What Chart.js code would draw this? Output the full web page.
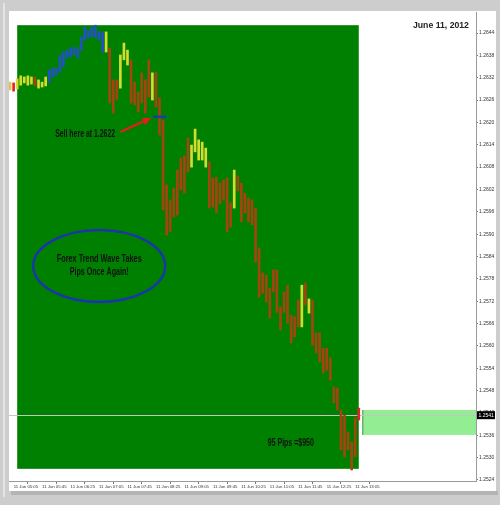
<!DOCTYPE html>
<html>
<head>
<meta charset="utf-8">
<script src="https://cdn.jsdelivr.net/npm/chart.js@4.4.1/dist/chart.umd.min.js"></script>
<style>
  html, body { margin: 0; padding: 0; background: #cdcdcd; }
  canvas { display: block; }
</style>
</head>
<body>
<canvas id="chart" width="500" height="505"></canvas>
<script>
// 5 minute bars, 11 Jun 2012 (bar 1 = 05:05 ... bar 97 = 13:05)
const highs = [
  1.26308, 1.26306, 1.26317, 1.26325, 1.26322, 1.26325, 1.26322, 1.26322, 1.26314, 1.26308,
  1.26322, 1.26341, 1.26346, 1.26346, 1.26381, 1.26389, 1.26394, 1.26400, 1.26402, 1.26400,
  1.26429, 1.26456, 1.26448, 1.26456, 1.26461, 1.26443, 1.26443, 1.26443, 1.26400, 1.26314,
  1.26314, 1.26381, 1.26413, 1.26394, 1.26368, 1.26308, 1.26282, 1.26333, 1.26314, 1.26368,
  1.26333, 1.26335, 1.26266, 1.26206, 1.26032, 1.25992, 1.26024, 1.26072, 1.26104, 1.26110,
  1.26158, 1.26139, 1.26182, 1.26153, 1.26147, 1.26131, 1.26094, 1.26051, 1.26053, 1.26037,
  1.26045, 1.26051, 1.25984, 1.26072, 1.26056, 1.26037, 1.26010, 1.25997, 1.25992, 1.25970,
  1.25863, 1.25796, 1.25790, 1.25755, 1.25804, 1.25804, 1.25704, 1.25745, 1.25763, 1.25683,
  1.25678, 1.25723, 1.25763, 1.25769, 1.25726, 1.25723, 1.25635, 1.25635, 1.25594, 1.25594,
  1.25568, 1.25490, 1.25487, 1.25428, 1.25414, 1.25369, 1.25342, 1.25407, 1.25433
];
const lows = [
  1.26287, 1.26284, 1.26290, 1.26300, 1.26306, 1.26300, 1.26303, 1.26298, 1.26292, 1.26295,
  1.26298, 1.26308, 1.26322, 1.26327, 1.26335, 1.26349, 1.26373, 1.26376, 1.26381, 1.26373,
  1.26394, 1.26421, 1.26427, 1.26429, 1.26429, 1.26421, 1.26389, 1.26389, 1.26252, 1.26225,
  1.26262, 1.26292, 1.26368, 1.26354, 1.26252, 1.26247, 1.26228, 1.26252, 1.26225, 1.26268,
  1.26260, 1.26241, 1.26166, 1.25965, 1.25898, 1.25906, 1.25946, 1.25951, 1.26019, 1.26010,
  1.26067, 1.26080, 1.26121, 1.26099, 1.26099, 1.26080, 1.25970, 1.25973, 1.25957, 1.25981,
  1.25992, 1.25906, 1.25919, 1.25970, 1.26016, 1.25933, 1.25957, 1.25933, 1.25925, 1.25825,
  1.25731, 1.25742, 1.25718, 1.25675, 1.25745, 1.25690, 1.25643, 1.25690, 1.25661, 1.25608,
  1.25624, 1.25651, 1.25651, 1.25710, 1.25688, 1.25602, 1.25581, 1.25557, 1.25527, 1.25535,
  1.25508, 1.25447, 1.25428, 1.25321, 1.25302, 1.25321, 1.25267, 1.25302, 1.25401
];
// indicator state per bar: b = up, d = down, y = neutral, o / r = marked bars
const trend = [
  'o','r','y','y','y','y','y','d','y','y',
  'y','b','b','b','b','b','b','b','b','b',
  'b','b','b','b','b','b','b','y','d','d',
  'd','y','y','y','d','d','d','d','d','d',
  'y','d','d','d','d','d','d','d','d','d',
  'd','y','y','y','y','y','d','d','d','d',
  'd','d','d','y','d','d','d','d','d','d',
  'd','d','d','d','d','d','d','d','d','d',
  'd','d','y','d','y','d','d','d','d','d',
  'd','d','d','d','d','d','d','d','r'
];

const timeTicks = [1, 9, 17, 25, 33, 41, 49, 57, 65, 73, 81, 89, 97];
const timeLabels = ['11 Jun 05:05', '11 Jun 05:45', '11 Jun 06:25', '11 Jun 07:05', '11 Jun 07:45',
  '11 Jun 08:25', '11 Jun 09:05', '11 Jun 09:45', '11 Jun 10:25', '11 Jun 11:05',
  '11 Jun 11:45', '11 Jun 12:25', '11 Jun 13:05'];
const priceTicks = [1.2524, 1.2530, 1.2536, 1.2542, 1.2548, 1.2554, 1.2560, 1.2566, 1.2572,
  1.2578, 1.2584, 1.2590, 1.2596, 1.2602, 1.2608, 1.2614, 1.2620, 1.2626, 1.2632, 1.2638, 1.2644];

const currentPrice = 1.25414;
const sellPrice = 1.26215;

const trendColors = { b: '#2152c4', d: '#a3450f', y: '#d4dc30', o: '#eec040', r: '#e02424' };

const bars = highs.map((h, i) => ({ x: i, y: [lows[i], h] }));

// helper: draw text squeezed to a given width
function fitText(ctx, text, cx, cy, width, font, color) {
  ctx.save();
  ctx.font = font;
  ctx.fillStyle = color;
  ctx.textAlign = 'center';
  ctx.textBaseline = 'middle';
  const w = ctx.measureText(text).width;
  ctx.translate(cx, cy);
  ctx.scale(width / w, 1);
  ctx.fillText(text, 0, 0);
  ctx.restore();
}

const frame = {
  id: 'frame',
  beforeDraw(chart) {
    const ctx = chart.ctx;
    ctx.save();
    ctx.fillStyle = '#cdcdcd';
    ctx.fillRect(0, 0, 500, 505);
    ctx.fillStyle = '#e4e4e4';
    ctx.fillRect(3, 3, 2, 494);
    ctx.fillStyle = '#b4b4b4';
    ctx.fillRect(11, 491, 487, 4);
    ctx.fillStyle = '#ffffff';
    ctx.fillRect(9, 11, 487, 480);
    ctx.restore();
  }
};

const objects = {
  id: 'objects',
  beforeDatasetsDraw(chart) {
    const { ctx, chartArea: a, scales: { x, y } } = chart;
    ctx.save();
    ctx.beginPath();
    ctx.rect(a.left, a.top, a.right - a.left, a.bottom - a.top);
    ctx.clip();
    // trend rectangle
    ctx.fillStyle = '#008000';
    ctx.fillRect(x.getPixelForValue(2), y.getPixelForValue(1.26461),
      x.getPixelForValue(98) - x.getPixelForValue(2), y.getPixelForValue(1.25270) - y.getPixelForValue(1.26461));
    // projection box
    ctx.fillStyle = '#93ee93';
    const px = x.getPixelForValue(99);
    ctx.fillRect(px, y.getPixelForValue(1.25428), a.right - px, y.getPixelForValue(1.25361) - y.getPixelForValue(1.25428));
    ctx.fillStyle = '#4f8f4f';
    ctx.fillRect(px, y.getPixelForValue(1.25428), 1, y.getPixelForValue(1.25361) - y.getPixelForValue(1.25428));
    // current price line
    ctx.strokeStyle = '#c4c4c4';
    ctx.lineWidth = 1;
    const cy = Math.round(y.getPixelForValue(currentPrice)) + 0.5;
    ctx.beginPath();
    ctx.moveTo(a.left, cy);
    ctx.lineTo(a.right, cy);
    ctx.stroke();
    ctx.restore();
  },
  afterDatasetsDraw(chart) {
    const { ctx, scales: { x, y } } = chart;
    ctx.save();
    // sell level marker
    ctx.strokeStyle = '#1c3aa8';
    ctx.lineWidth = 2.5;
    ctx.beginPath();
    ctx.moveTo(x.getPixelForValue(40.3), y.getPixelForValue(sellPrice));
    ctx.lineTo(x.getPixelForValue(44), y.getPixelForValue(sellPrice));
    ctx.stroke();
    // arrow
    const x1 = x.getPixelForValue(31), y1 = y.getPixelForValue(1.26174);
    const x2 = x.getPixelForValue(39.6), y2 = y.getPixelForValue(1.26212);
    const ang = Math.atan2(y2 - y1, x2 - x1);
    ctx.strokeStyle = '#e81c1c';
    ctx.fillStyle = '#e81c1c';
    ctx.lineWidth = 2.2;
    ctx.beginPath();
    ctx.moveTo(x1, y1);
    ctx.lineTo(x2 - 5 * Math.cos(ang), y2 - 5 * Math.sin(ang));
    ctx.stroke();
    ctx.beginPath();
    ctx.moveTo(x2, y2);
    ctx.lineTo(x2 - 8 * Math.cos(ang) + 4 * Math.sin(ang), y2 - 8 * Math.sin(ang) - 4 * Math.cos(ang));
    ctx.lineTo(x2 - 8 * Math.cos(ang) - 4 * Math.sin(ang), y2 - 8 * Math.sin(ang) + 4 * Math.cos(ang));
    ctx.closePath();
    ctx.fill();
    // ellipse
    const ex1 = x.getPixelForValue(6.5), ex2 = x.getPixelForValue(43.6);
    const ey1 = y.getPixelForValue(1.25911), ey2 = y.getPixelForValue(1.25718);
    const ecx = (ex1 + ex2) / 2, ecy = (ey1 + ey2) / 2;
    ctx.strokeStyle = '#1a36a8';
    ctx.lineWidth = 2.5;
    ctx.beginPath();
    ctx.ellipse(ecx, ecy, (ex2 - ex1) / 2, (ey2 - ey1) / 2, 0, 0, Math.PI * 2);
    ctx.stroke();
    fitText(ctx, 'Forex Trend Wave Takes', ecx, ecy - 7, 85, 'bold 10px "Liberation Sans", Arial', '#111');
    fitText(ctx, 'Pips Once Again!', ecx, ecy + 6, 59, 'bold 10px "Liberation Sans", Arial', '#111');
    // texts
    fitText(ctx, 'Sell here at 1.2622', x.getPixelForValue(21.1), y.getPixelForValue(1.26169), 60,
      'bold 10px "Liberation Sans", Arial', '#111');
    fitText(ctx, '95 Pips =$950', x.getPixelForValue(78.9), y.getPixelForValue(1.25339), 46,
      'bold 10px "Liberation Sans", Arial', '#111');
    fitText(ctx, 'June 11, 2012', x.getPixelForValue(121.1), y.getPixelForValue(1.26461), 56,
      'bold 9px "Liberation Sans", Arial', '#222');
    ctx.restore();
  },
  afterDraw(chart) {
    const { ctx, chartArea: a, scales: { y } } = chart;
    const cy = y.getPixelForValue(currentPrice);
    ctx.save();
    ctx.fillStyle = '#000';
    ctx.fillRect(a.right + 1, cy - 4, 18, 8);
    ctx.fillStyle = '#fff';
    ctx.font = '5px "Liberation Sans", Arial';
    ctx.textBaseline = 'middle';
    ctx.fillText(currentPrice.toFixed(4), a.right + 2.5, cy + 0.5);
    ctx.restore();
  }
};

new Chart(document.getElementById('chart'), {
  type: 'bar',
  data: {
    datasets: [{
      data: bars,
      backgroundColor: trend.map(s => trendColors[s]),
      borderWidth: 0,
      barThickness: 2,
      grouped: false
    }]
  },
  options: {
    responsive: false,
    animation: false,
    layout: { padding: { left: 9, top: 12, right: 4, bottom: 15 } },
    plugins: { legend: { display: false }, tooltip: { enabled: false } },
    scales: {
      x: {
        type: 'linear',
        offset: false,
        min: -0.3,
        max: 130.95,
        afterFit: s => { s.height = 9; },
        afterBuildTicks: s => { s.ticks = timeTicks.map(v => ({ value: v })); },
        ticks: {
          callback: (v, i) => timeLabels[i],
          font: { size: 4.3, family: '"Liberation Sans", Arial' },
          color: '#333',
          padding: 0.5,
          align: 'start',
          maxRotation: 0,
          autoSkip: false
        },
        grid: { drawOnChartArea: false, tickLength: 3, color: '#777' },
        border: { color: '#9a9a9a' }
      },
      y: {
        position: 'right',
        min: 1.252373,
        max: 1.264964,
        afterFit: s => { s.width = 20; },
        afterBuildTicks: s => { s.ticks = priceTicks.map(v => ({ value: v })); },
        ticks: {
          callback: v => v.toFixed(4),
          font: { size: 5, family: '"Liberation Sans", Arial' },
          color: '#333',
          padding: 1,
          autoSkip: false
        },
        grid: { drawOnChartArea: false, tickLength: 2, color: '#777' },
        border: { color: '#9a9a9a' }
      }
    }
  },
  plugins: [frame, objects]
});
</script>
</body>
</html>
